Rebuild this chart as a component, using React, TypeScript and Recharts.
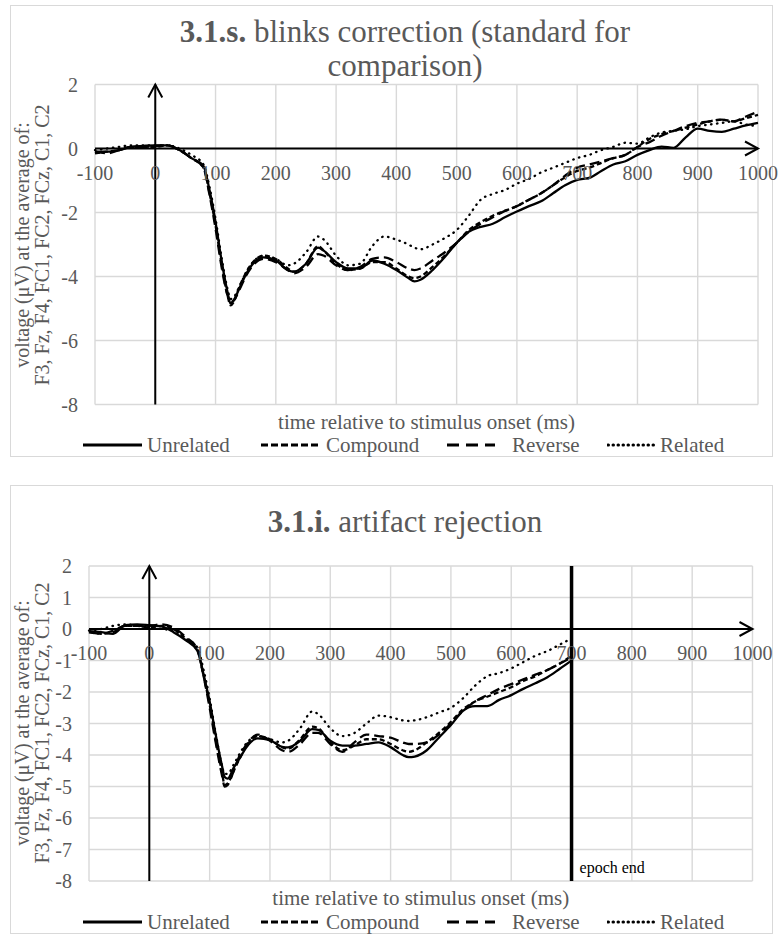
import { CartesianGrid, Line, LineChart, ReferenceLine, XAxis, YAxis } from "recharts"

const SERIF = '"Liberation Serif", "Times New Roman", serif'
const GREY = "#595959"

// ---- 3.1.s. blinks correction ----
const timesTop = [
  -100, -80, -60, -40, -20, 0, 20, 40, 60, 80,
  90, 100, 110, 120, 125, 130, 140, 150, 160, 180,
  200, 220, 230, 250, 270, 280, 300, 320, 340, 360,
  380, 400, 420, 430, 440, 460, 480, 500, 520, 540,
  560, 580, 600, 620, 640, 660, 680, 700, 720, 740,
  760, 780, 800, 820, 840, 860, 880, 900, 920, 940,
  960, 980, 1000,
]
const unrelatedTop = [
  -0.1, -0.1, -0.05, 0.05, 0.08, 0.1, 0.1, -0.05, -0.3, -0.55,
  -1.3, -2.3, -3.5, -4.5, -4.85, -4.75, -4.35, -3.95, -3.65, -3.4,
  -3.5, -3.8, -3.85, -3.6, -3.1, -3.2, -3.55, -3.75, -3.75, -3.5,
  -3.6, -3.8, -4.05, -4.15, -4.1, -3.8, -3.4, -2.95, -2.6, -2.45,
  -2.35, -2.15, -1.97, -1.8, -1.65, -1.4, -1.15, -0.98, -0.92, -0.7,
  -0.5, -0.4, -0.2, -0.05, 0.06, 0.02, 0.35, 0.62, 0.55, 0.52,
  0.62, 0.72, 0.8,
]
const compoundTop = [
  -0.15, -0.1, -0.05, 0.05, 0.05, 0.05, 0.1, -0.05, -0.3, -0.6,
  -1.4, -2.4, -3.6, -4.6, -4.9, -4.8, -4.3, -3.9, -3.6, -3.35,
  -3.45, -3.75, -3.85, -3.6, -3.05, -3.2, -3.6, -3.8, -3.75, -3.55,
  -3.55, -3.75, -4.0, -4.05, -4.0, -3.7, -3.35, -2.95, -2.55, -2.3,
  -2.1, -1.95, -1.8, -1.6, -1.4, -1.15, -0.9, -0.7, -0.6, -0.45,
  -0.3, -0.2, 0.05, 0.3, 0.45, 0.55, 0.65, 0.75, 0.85, 0.9,
  0.85, 0.95, 1.05,
]
const reverseTop = [
  -0.1, -0.15, -0.05, 0.05, 0.05, 0.08, 0.1, -0.05, -0.3, -0.6,
  -1.45, -2.5, -3.7, -4.6, -4.8, -4.75, -4.4, -4.0, -3.7, -3.45,
  -3.55, -3.8, -3.9, -3.7, -3.3, -3.35, -3.65, -3.8, -3.7, -3.45,
  -3.4, -3.55, -3.75, -3.8, -3.75, -3.5, -3.25, -2.95, -2.6, -2.35,
  -2.15, -1.95, -1.8, -1.6, -1.4, -1.15, -0.85, -0.6, -0.5, -0.4,
  -0.3, -0.2, 0.05, 0.2, 0.4, 0.55, 0.7, 0.8, 0.85, 0.9,
  0.85, 1.0, 1.15,
]
const relatedTop = [
  -0.05, 0.0, 0.05, 0.1, 0.1, 0.1, 0.1, 0.0, -0.2, -0.5,
  -1.2, -2.2, -3.4, -4.4, -4.7, -4.65, -4.3, -3.9, -3.6, -3.35,
  -3.45, -3.65, -3.6, -3.25, -2.75, -2.85, -3.35, -3.65, -3.6, -3.05,
  -2.75, -2.85, -3.0, -3.1, -3.15, -3.0, -2.8, -2.55, -2.1, -1.6,
  -1.42, -1.3, -1.1, -0.95, -0.75, -0.6, -0.45, -0.3, -0.2, -0.05,
  0.05, 0.18, 0.15, 0.35, 0.5, 0.55, 0.6, 0.7, 0.75, 0.8,
  0.85, 0.75, 0.7,
]

// ---- 3.1.i. artifact rejection (epoch ends at 700 ms) ----
const timesBottom = [
  -100, -80, -60, -40, -20, 0, 20, 40, 60, 80,
  90, 100, 110, 120, 125, 130, 140, 150, 160, 180,
  200, 220, 230, 250, 270, 280, 300, 320, 340, 360,
  380, 400, 420, 430, 440, 460, 480, 500, 520, 540,
  560, 580, 600, 620, 640, 660, 680, 700,
]
const unrelatedBottom = [
  -0.07, -0.1, -0.15, 0.12, 0.15, 0.12, 0.08, -0.1, -0.35, -0.7,
  -1.45, -2.3, -3.35, -4.3, -4.7, -4.75, -4.4, -4.1, -3.78, -3.47,
  -3.53, -3.74, -3.76, -3.55, -3.18, -3.2, -3.55, -3.7, -3.7, -3.65,
  -3.6, -3.75, -4.0, -4.07, -4.05, -3.85, -3.45, -3.05, -2.6, -2.45,
  -2.45, -2.25, -2.1, -1.9, -1.72, -1.53, -1.27, -1.0,
]
const compoundBottom = [
  -0.1, -0.15, -0.1, 0.1, 0.1, 0.05, 0.1, 0.0, -0.3, -0.7,
  -1.5, -2.4, -3.5, -4.5, -4.95, -4.9, -4.5, -4.1, -3.75, -3.4,
  -3.5, -3.75, -3.8, -3.5, -3.1, -3.15, -3.6, -3.85, -3.7, -3.5,
  -3.5, -3.65, -3.85, -3.9, -3.85, -3.6, -3.3, -2.95, -2.55, -2.3,
  -2.15, -2.0, -1.85, -1.65, -1.5, -1.3, -1.1, -0.85,
]
const reverseBottom = [
  -0.1, -0.15, -0.05, 0.1, 0.1, 0.1, 0.15, 0.05, -0.25, -0.65,
  -1.5, -2.5, -3.6, -4.6, -5.0, -4.95, -4.5, -4.0, -3.7, -3.35,
  -3.55, -3.85, -3.9, -3.65, -3.3, -3.3, -3.65, -3.9, -3.6, -3.35,
  -3.4, -3.45, -3.6, -3.65, -3.65, -3.6, -3.35, -3.0, -2.6, -2.3,
  -2.1, -1.9, -1.75, -1.6, -1.45, -1.3, -1.1, -0.9,
]
const relatedBottom = [
  -0.05, 0.0, 0.1, 0.15, 0.1, 0.05, 0.0, -0.05, -0.3, -0.6,
  -1.3, -2.2, -3.3, -4.3, -4.6, -4.6, -4.3, -3.95, -3.65, -3.4,
  -3.5, -3.6, -3.55, -3.15, -2.62, -2.7, -3.15, -3.4, -3.3, -3.0,
  -2.75, -2.8, -2.9, -2.92, -2.9, -2.8, -2.65, -2.5, -2.2, -1.8,
  -1.5, -1.4, -1.25, -1.05, -0.85, -0.7, -0.5, -0.3,
]

const xTicks = [-100, 0, 100, 200, 300, 400, 500, 600, 700, 800, 900, 1000]
const yTicksTop = [2, 0, -2, -4, -6, -8]
const yTicksBottom = [2, 1, 0, -1, -2, -3, -4, -5, -6, -7, -8]

const series = [
  { key: "unrelated", name: "Unrelated", dash: undefined, cap: "butt" },
  { key: "compound", name: "Compound", dash: "5 3", cap: "butt" },
  { key: "reverse", name: "Reverse", dash: "10 5", cap: "butt" },
  { key: "related", name: "Related", dash: "0.5 5.5", cap: "round" },
]

const legendSamples = [
  { left: 71, width: 61, dash: undefined, cap: "butt", textLeft: 136 },
  { left: 249, width: 61, dash: "7 3", cap: "butt", textLeft: 315 },
  { left: 435, width: 50, dash: "12 7", cap: "butt", textLeft: 501 },
  { left: 596, width: 50, dash: "0.5 4.5", cap: "round", textLeft: 649 },
]

function buildRows(times, unrelated, compound, reverse, related) {
  return times.map((t, i) => ({
    t,
    unrelated: unrelated[i],
    compound: compound[i],
    reverse: reverse[i],
    related: related[i],
  }))
}

const rowsTop = buildRows(timesTop, unrelatedTop, compoundTop, reverseTop, relatedTop)
const rowsBottom = buildRows(timesBottom, unrelatedBottom, compoundBottom, reverseBottom, relatedBottom)

function ArrowRight(props: any) {
  const { x1, y1, x2, y2 } = props
  const tx = Math.max(x1, x2)
  return (
    <g>
      <line x1={x1} y1={y1} x2={x2} y2={y2} stroke="#000" strokeWidth={2} />
      <polyline points={`${tx - 13},${y1 - 7} ${tx},${y1} ${tx - 13},${y1 + 7}`} fill="none" stroke="#000" strokeWidth={2} />
    </g>
  )
}

function ArrowUp(props: any) {
  const { x1, y1, x2, y2 } = props
  const ty = Math.min(y1, y2)
  return (
    <g>
      <line x1={x1} y1={y1} x2={x2} y2={y2} stroke="#000" strokeWidth={2} />
      <polyline points={`${x1 - 7},${ty + 13} ${x1},${ty} ${x1 + 7},${ty + 13}`} fill="none" stroke="#000" strokeWidth={2} />
    </g>
  )
}

const W = 761

function Panel({ frameTop, frameHeight, rows, yTicks, plot, titleLines, axisTitleY, legendY, yTitleY, epochEnd }) {
  const H = frameHeight - 2
  const zeroY = plot.top + (plot.bottom - plot.top) * 0.2
  const margin = { top: plot.top, left: plot.left - 40, right: W - plot.right, bottom: H - plot.bottom - 30 }
  const plotMid = (plot.left + plot.right) / 2
  return (
    <div
      style={{
        position: "absolute",
        left: 10,
        top: frameTop,
        width: W + 2,
        height: frameHeight,
        border: "1px solid #d9d9d9",
        boxSizing: "border-box",
        fontFamily: SERIF,
        color: GREY,
      }}
    >
      {titleLines.map((ln, i) => (
        <div
          key={i}
          style={{
            position: "absolute",
            left: 394 - 350,
            width: 700,
            top: ln.y - 20,
            height: 40,
            lineHeight: "40px",
            textAlign: "center",
            fontSize: 31,
            whiteSpace: "nowrap",
          }}
        >
          {ln.content}
        </div>
      ))}
      <div
        style={{
          position: "absolute",
          left: 21,
          top: yTitleY,
          transform: "translate(-50%, -50%) rotate(-90deg)",
          whiteSpace: "nowrap",
          textAlign: "center",
          fontSize: 20,
          lineHeight: "20px",
        }}
      >
        voltage (μV) at the average of:
        <br />
        F3, Fz, F4, FC1, FC2, FCz, C1, C2
      </div>
      <div style={{ position: "absolute", left: 0, top: 0 }}>
        <LineChart width={W} height={H} data={rows} margin={margin}>
          <CartesianGrid stroke="#d9d9d9" strokeWidth={1.4} />
          <XAxis
            dataKey="t"
            type="number"
            domain={[-100, 1000]}
            ticks={xTicks}
            interval={0}
            axisLine={false}
            tickLine={false}
            height={30}
            tick={(p: any) => (
              <text x={p.x} y={zeroY + 31} textAnchor="middle" fill={GREY} fontSize={20} fontFamily={SERIF}>
                {p.payload.value}
              </text>
            )}
          />
          <YAxis
            type="number"
            domain={[-8, 2]}
            ticks={yTicks}
            interval={0}
            width={40}
            axisLine={false}
            tickLine={false}
            tick={(p: any) => (
              <text x={plot.left - 17} y={p.y + 7} textAnchor="end" fill={GREY} fontSize={20} fontFamily={SERIF}>
                {p.payload.value}
              </text>
            )}
          />
          <ReferenceLine y={0} shape={ArrowRight} />
          <ReferenceLine x={0} shape={ArrowUp} />
          {epochEnd ? (
            <ReferenceLine
              x={700}
              stroke="#000"
              strokeWidth={3.5}
              label={{ value: "epoch end", position: "insideBottomLeft", offset: 8, fill: "#000", fontSize: 16, fontFamily: SERIF }}
            />
          ) : null}
          {series.map((s) => (
            <Line
              key={s.key}
              type="monotone"
              dataKey={s.key}
              name={s.name}
              stroke="#000"
              strokeWidth={2.3}
              strokeDasharray={s.dash}
              strokeLinecap={s.cap as any}
              dot={false}
              isAnimationActive={false}
            />
          ))}
        </LineChart>
      </div>
      <div
        style={{
          position: "absolute",
          left: plotMid - 300,
          width: 600,
          top: axisTitleY - 13,
          height: 26,
          lineHeight: "26px",
          textAlign: "center",
          fontSize: 21,
        }}
      >
        time relative to stimulus onset (ms)
      </div>
      {series.map((s, i) => {
        const lg = legendSamples[i]
        return (
          <div key={s.key}>
            <svg style={{ position: "absolute", left: lg.left, top: legendY - 4 }} width={lg.width} height={8}>
              <line
                x1={1}
                y1={4}
                x2={lg.width - 1}
                y2={4}
                stroke="#000"
                strokeWidth={3}
                strokeDasharray={lg.dash}
                strokeLinecap={lg.cap as any}
              />
            </svg>
            <div
              style={{
                position: "absolute",
                left: lg.textLeft,
                top: legendY - 13,
                height: 26,
                lineHeight: "26px",
                fontSize: 21,
                whiteSpace: "nowrap",
              }}
            >
              {s.name}
            </div>
          </div>
        )
      })}
    </div>
  )
}

export default function App() {
  return (
    <div style={{ position: "absolute", left: 0, top: 0, width: 782, height: 934, background: "#fff", overflow: "hidden" }}>
      <style>{"svg.recharts-surface { overflow: visible; }"}</style>
      <Panel
        frameTop={5}
        frameHeight={452}
        rows={rowsTop}
        yTicks={yTicksTop}
        plot={{ left: 84, right: 747, top: 78.5, bottom: 398.5 }}
        titleLines={[
          { y: 26, content: <><b>3.1.s.</b> blinks correction (standard for</> },
          { y: 60, content: <>comparison)</> },
        ]}
        axisTitleY={416}
        legendY={439}
        yTitleY={238.5}
        epochEnd={false}
      />
      <Panel
        frameTop={485}
        frameHeight={449}
        rows={rowsBottom}
        yTicks={yTicksBottom}
        plot={{ left: 78, right: 741.5, top: 80, bottom: 395 }}
        titleLines={[{ y: 36, content: <><b>3.1.i.</b> artifact rejection</> }]}
        axisTitleY={412}
        legendY={436}
        yTitleY={237}
        epochEnd={true}
      />
    </div>
  )
}
